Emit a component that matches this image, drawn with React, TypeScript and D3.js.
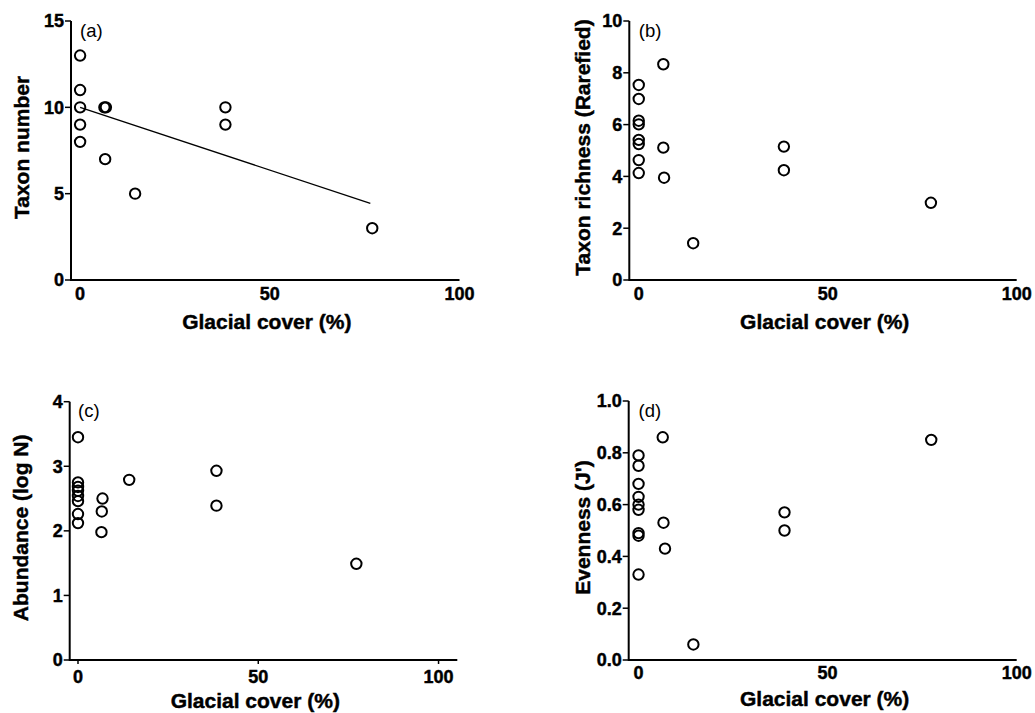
import * as d3 from "d3";

// Panel (a) taxon number
const taxonX = [0, 0, 0, 0, 0, 6.4, 6.8, 6.6, 14.5, 38.3, 38.3, 77];
const taxonY = [13, 11, 10, 9, 8, 10, 10, 7, 5, 10, 9, 3];
const taxonFitX = [0, 76.5];
const taxonFitY = [10.0, 4.44];
const taxonTicks = [0, 5, 10, 15];

// Panel (b) rarefied richness
const rareX = [0, 0, 0, 0, 0, 0, 0, 0, 6.5, 6.5, 6.7, 14.4, 38.4, 38.4, 77.3];
const rareY = [7.53, 6.99, 6.15, 6.01, 5.41, 5.25, 4.63, 4.13, 8.33, 5.11, 3.95, 1.42, 5.15, 4.24, 2.98];
const rareTicks = [0, 2, 4, 6, 8, 10];

// Panel (c) abundance
const abundX = [0, 0, 0, 0, 0, 0, 0, 0, 6.8, 6.6, 6.5, 14.2, 38.4, 38.4, 77.2];
const abundY = [3.45, 2.75, 2.68, 2.62, 2.54, 2.46, 2.26, 2.12, 2.5, 2.3, 1.98, 2.79, 2.93, 2.39, 1.49];
const abundTicks = [0, 1, 2, 3, 4];

// Panel (d) evenness
const evenX = [0, 0, 0, 0, 0, 0, 0, 0, 0, 6.4, 6.6, 7.0, 14.5, 38.6, 38.6, 77.4];
const evenY = [0.79, 0.75, 0.68, 0.63, 0.6, 0.58, 0.49, 0.48, 0.33, 0.86, 0.53, 0.43, 0.06, 0.57, 0.5, 0.85];
const evenTicks = [0, 0.2, 0.4, 0.6, 0.8, 1.0];

const xTickValues = [0, 50, 100];
const xTitle = "Glacial cover (%)";

const FONT = "'Liberation Sans', Arial, sans-serif";

interface PanelProps {
    label: string;
    yTitle: string;
    xs: number[];
    ys: number[];
    yTicks: number[];
    yFormat: (v: number) => string;
    fitX?: number[];
    fitY?: number[];
    xDomain: [number, number];
    xRange: [number, number];
    yRange: [number, number]; // [bottom, top]
    xTickLen: number;
    xLabelDy: number;
    xTitleDy: number;
    yTitleX: number;
}

// heavy text like the exported figure
const heavy = { fontWeight: "bold" as const, stroke: "#000", strokeWidth: 0.45 };

function Panel({
    label, yTitle, xs, ys, yTicks, yFormat, fitX, fitY,
    xDomain, xRange, yRange, xTickLen, xLabelDy, xTitleDy, yTitleX,
}: PanelProps) {
    const x = d3.scaleLinear().domain(xDomain).range(xRange);
    const y = d3.scaleLinear().domain([yTicks[0], yTicks[yTicks.length - 1]]).range(yRange);
    const [x0, x1] = xRange;
    const [yb, yt] = yRange;

    const fitPath = fitX && fitY
        ? d3.line<number>().x((d) => x(d)).y((_, i) => y(fitY[i]))(fitX) ?? ""
        : "";

    return (
        <g fontFamily={FONT}>
            {/* axes lines */}
            <line x1={x0} x2={x0} y1={yt} y2={yb + 1} stroke="#000" strokeWidth={2} />
            <line x1={x0} x2={x1} y1={yb} y2={yb} stroke="#000" strokeWidth={2} />

            {/* y ticks */}
            {yTicks.map((v) => (
                <g key={`yt-${v}`} transform={`translate(${x0},${y(v)})`}>
                    <line x1={-6} x2={0} stroke="#000" strokeWidth={1.5} />
                    <text x={-7} dy="0.36em" textAnchor="end" fontSize={18} {...heavy}>
                        {yFormat(v)}
                    </text>
                </g>
            ))}

            {/* x ticks */}
            {xTickValues.map((v) => (
                <g key={`xt-${v}`} transform={`translate(${x(v)},${yb})`}>
                    {xTickLen > 0 && <line y1={0} y2={xTickLen} stroke="#000" strokeWidth={1.5} />}
                    <text y={xLabelDy} textAnchor="middle" fontSize={18} {...heavy}>
                        {v}
                    </text>
                </g>
            ))}

            {/* titles */}
            <text x={(x(0) + x(100)) / 2 - 3} y={yb + xTitleDy} textAnchor="middle" fontSize={21} {...heavy}>
                {xTitle}
            </text>
            <text
                transform={`translate(${yTitleX},${(yt + yb) / 2 - 3}) rotate(-90)`}
                textAnchor="middle" fontSize={21} {...heavy}
            >
                {yTitle}
            </text>
            <text x={x(0)} y={yt + 15.5} fontSize={18.5}>{label}</text>

            {/* fit line */}
            {fitPath && <path d={fitPath} fill="none" stroke="#000" strokeWidth={1.3} />}

            {/* points */}
            {xs.map((xv, i) => (
                <circle key={`p-${i}`} cx={x(xv)} cy={y(ys[i])} r={5.2} fill="none" stroke="#000" strokeWidth={2} />
            ))}
        </g>
    );
}

export default function App() {
    return (
        <svg width={1035} height={713} viewBox="0 0 1035 713"
            style={{ position: "absolute", left: 0, top: 0, background: "#fff" }}>
            <rect width={1035} height={713} fill="#fff" />
            <Panel label="(a)" yTitle="Taxon number" xs={taxonX} ys={taxonY}
                yTicks={taxonTicks} yFormat={(v) => `${v}`} fitX={taxonFitX} fitY={taxonFitY}
                xDomain={[-2.4, 100]} xRange={[71, 459.5]} yRange={[280, 21]}
                xTickLen={0} xLabelDy={19.5} xTitleDy={48.5} yTitleX={29} />
            <Panel label="(b)" yTitle="Taxon richness (Rarefied)" xs={rareX} ys={rareY}
                yTicks={rareTicks} yFormat={(v) => `${v}`}
                xDomain={[-2.5, 100]} xRange={[629.3, 1016.7]} yRange={[280, 21]}
                xTickLen={0} xLabelDy={19.5} xTitleDy={48.5} yTitleX={590} />
            <Panel label="(c)" yTitle="Abundance (log N)" xs={abundX} ys={abundY}
                yTicks={abundTicks} yFormat={(v) => `${v}`}
                xDomain={[-2.3, 105.2]} xRange={[69.7, 457.3]} yRange={[660, 401.7]}
                xTickLen={4} xLabelDy={23.3} xTitleDy={48.3} yTitleX={27.5} />
            <Panel label="(d)" yTitle="Evenness (J')" xs={evenX} ys={evenY}
                yTicks={evenTicks} yFormat={(v) => v.toFixed(1)}
                xDomain={[-2.6, 100]} xRange={[628.7, 1016.7]} yRange={[660, 401]}
                xTickLen={0} xLabelDy={19.3} xTitleDy={46} yTitleX={590} />
        </svg>
    );
}
